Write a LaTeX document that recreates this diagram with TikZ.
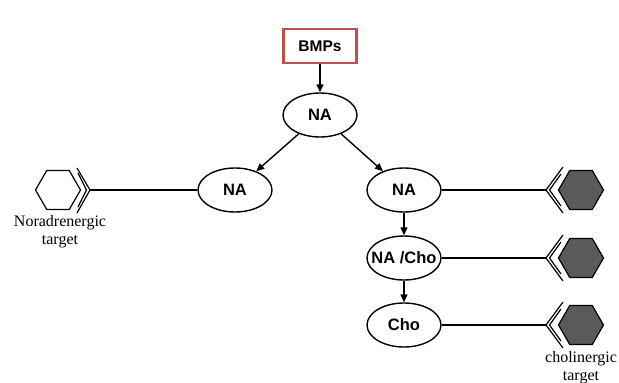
\documentclass[tikz,border=0pt]{standalone}
\usepackage{fontspec}
\setmainfont{Liberation Serif}
\setsansfont{Liberation Sans}
\usetikzlibrary{shapes.geometric,arrows.meta}
\definecolor{boxred}{HTML}{C0504D}
\definecolor{hexgray}{HTML}{5A5A5A}
\begin{document}
\begin{tikzpicture}[x=1pt,y=-1pt,
  cell/.style={ellipse,draw,line width=1.4pt,minimum width=74pt,minimum height=44pt,inner sep=0pt,
    font=\sffamily\bfseries\fontsize{16.5}{16.5}\selectfont},
  arr/.style={line width=1.4pt,-{Triangle[length=8pt,width=7pt]}},
  conn/.style={line width=1.2pt},
  chev/.style={line width=1.2pt},
  hexo/.style={regular polygon,regular polygon sides=6,shape border rotate=0,minimum size=45pt,inner sep=0pt,line width=1.2pt,draw},
  lab/.style={align=center,font=\fontsize{16}{18}\selectfont}]
\useasboundingbox (0,0) rectangle (619,383);
\node[draw=boxred,line width=2.6pt,minimum width=73pt,minimum height=34pt,inner sep=0pt,
  font=\sffamily\bfseries\fontsize{15.5}{15.5}\selectfont] (bmp) at (320,46) {BMPs};
\node[cell] (na0) at (320,115) {NA};
\node[cell] (naL) at (235,190) {NA};
\node[cell] (naR) at (404,190) {NA};
\node[cell] (nac) at (404,258) {\makebox[0pt]{NA /Cho}};
\node[cell] (cho) at (404,325) {Cho};
\draw[arr] (bmp) -- (na0);
\draw[arr] (na0) -- (naL);
\draw[arr] (na0) -- (naR);
\draw[arr] (naR) -- (nac);
\draw[arr] (nac) -- (cho);
% left target
\node[hexo,fill=white] (hL) at (58,190) {};
\coordinate (tL) at (90,190);
\draw[chev] (77,168) -- (tL) -- (77,213);
\draw[chev] (78,173) -- (86.5,190) -- (78,207);
\draw[conn] (naL.west) -- (tL);
\node[lab] (labL) at (60,232) {Noradrenergic\\target};
% right targets
\foreach \y/\n/\src in {190/1/naR,258/2/nac,325/3/cho}{
  \node[hexo,fill=hexgray] (hR\n) at (581,\y) {};
  \coordinate (tR\n) at (546,\y);
  \draw[chev] (563,\y-23) -- (tR\n) -- (563,\y+23);
  \draw[chev] (561,\y-16) -- (549.5,\y) -- (561,\y+16);
  \draw[conn] (\src.east) -- (tR\n);
}
\node[lab] (labR) at (581,368) {cholinergic\\target};
\end{tikzpicture}
\end{document}
